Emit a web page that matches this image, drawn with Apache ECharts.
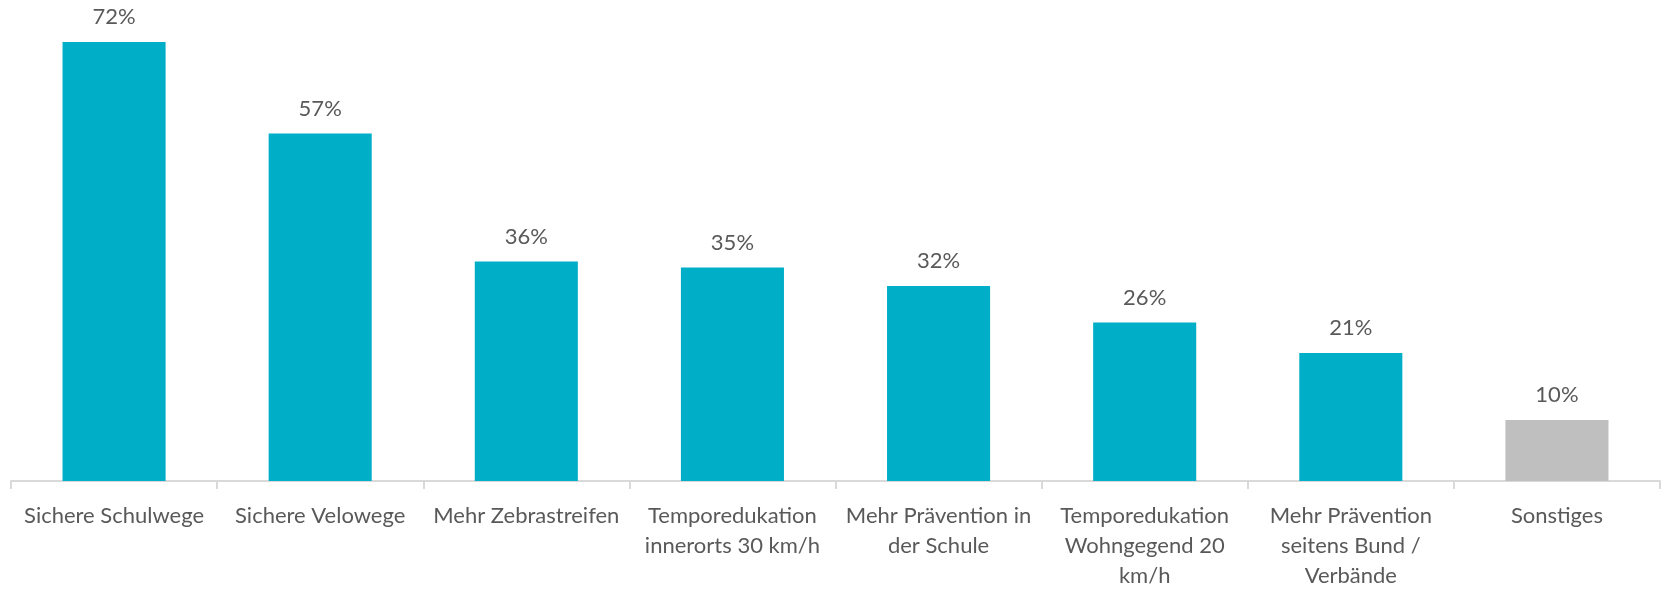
<!DOCTYPE html>
<html>
<head>
<meta charset="utf-8">
<script src="https://cdn.jsdelivr.net/npm/echarts@6/dist/echarts.min.js"></script>
<style>
html,body{margin:0;padding:0;background:#fff;}
#chart{width:1663px;height:591px;}
</style>
</head>
<body>
<div id="chart"></div>
<script>
const categories = [
  "Sichere Schulwege",
  "Sichere Velowege",
  "Mehr Zebrastreifen",
  "Temporedukation innerorts 30 km/h",
  "Mehr Prävention in der Schule",
  "Temporedukation Wohngegend 20 km/h",
  "Mehr Prävention seitens Bund / Verbände",
  "Sonstiges"
];
const tickLabels = [
  "Sichere Schulwege",
  "Sichere Velowege",
  "Mehr Zebrastreifen",
  "Temporedukation\ninnerorts 30 km/h",
  "Mehr Prävention in\nder Schule",
  "Temporedukation\nWohngegend 20\nkm/h",
  "Mehr Prävention\nseitens Bund /\nVerbände",
  "Sonstiges"
];
const values = [72, 57, 36, 35, 32, 26, 21, 10];
const barColors = ["#00AEC7","#00AEC7","#00AEC7","#00AEC7","#00AEC7","#00AEC7","#00AEC7","#BFBFBF"];

const chart = echarts.init(document.getElementById('chart'));
const FONT = 'Lato';
chart.setOption({
  animation: false,
  grid: {left: 11, right: 3, top: 42, bottom: 105, containLabel: false},
  xAxis: {
    type: 'category',
    data: categories,
    axisLine: {lineStyle: {color: '#D9D9D9', width: 2}},
    axisTick: {show: true, length: 8, lineStyle: {color: '#D9D9D9', width: 2}},
    axisLabel: {
      interval: 0,
      margin: 20,
      color: '#595959',
      fontFamily: FONT,
      fontSize: 22,
      lineHeight: 30,
      formatter: function (v, i) { return tickLabels[i]; }
    }
  },
  yAxis: {
    type: 'value', min: 0, max: 72,
    show: false,
    splitLine: {show: false}
  },
  series: [{
    type: 'bar',
    barWidth: '50%',
    data: values.map((v, i) => ({value: v, itemStyle: {color: barColors[i]}})),
    label: {
      show: true,
      position: 'top',
      distance: 14,
      color: '#595959',
      fontFamily: FONT,
      fontSize: 22,
      formatter: '{c}%'
    }
  }]
});
</script>
</body>
</html>
